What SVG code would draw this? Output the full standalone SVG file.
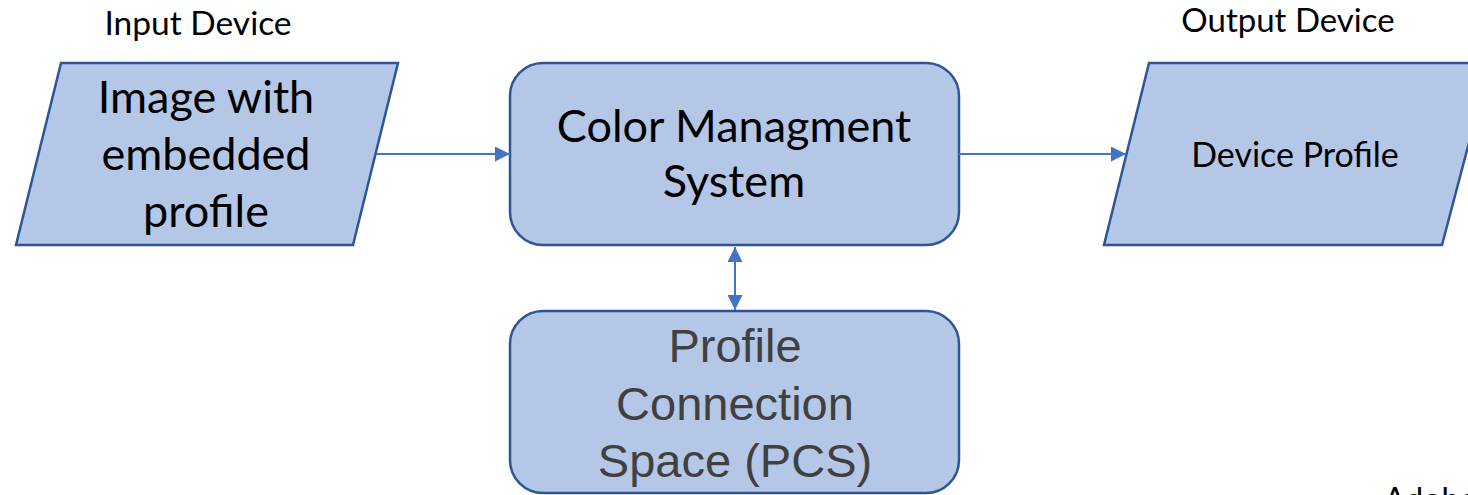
<svg xmlns="http://www.w3.org/2000/svg" width="1468" height="495" viewBox="0 0 1468 495">
<defs>
<style>
.shape{fill:#B4C7E7;stroke:#2F5597;stroke-width:2.5;}
.t{font-family:Lato,"Open Sans","Liberation Sans",sans-serif;fill:#000;text-anchor:middle;}
.pcs{font-family:"Liberation Sans",Arial,sans-serif;fill:#404040;text-anchor:middle;font-size:47px;}
.conn{stroke:#4472C4;stroke-width:2;fill:none;}
</style>
<marker id="ah" viewBox="0 0 15 15" refX="15" refY="7.5" markerWidth="15" markerHeight="15" markerUnits="userSpaceOnUse" orient="auto-start-reverse">
<path d="M0,0 L15,7.5 L0,15 Z" fill="#4472C4"/>
</marker>
</defs>
<rect width="1468" height="495" fill="#fff"/>
<text class="t" x="198" y="35" font-size="33.5">Input Device</text>
<text class="t" x="1288" y="32" font-size="33">Output Device</text>
<g id="input">
<polygon class="shape" points="61,63 398,63 353,245 16,245"/>
<text class="t" font-size="45"><tspan x="206" y="113">Image with</tspan><tspan x="206" y="170">embedded</tspan><tspan x="206" y="227">profile</tspan></text>
</g>
<g id="cms">
<rect class="shape" x="510" y="63" width="449" height="182" rx="33" ry="33"/>
<text class="t" font-size="45"><tspan x="734" y="142">Color Managment</tspan><tspan x="734" y="197">System</tspan></text>
</g>
<g id="pcs">
<rect class="shape" x="510" y="311" width="449" height="182" rx="33" ry="33"/>
<text class="pcs"><tspan x="735" y="362">Profile</tspan><tspan x="735" y="420">Connection</tspan><tspan x="735" y="477">Space (PCS)</tspan></text>
</g>
<g id="output">
<polygon class="shape" points="1149,63 1490,63 1442,245 1104,245"/>
<text class="t" x="1295" y="167" font-size="34">Device Profile</text>
</g>
<g id="connectors">
<line class="conn" x1="376" y1="154" x2="510" y2="154" marker-end="url(#ah)"/>
<line class="conn" x1="959" y1="154" x2="1126" y2="154" marker-end="url(#ah)"/>
<line class="conn" x1="735" y1="247" x2="735" y2="310" marker-start="url(#ah)" marker-end="url(#ah)"/>
</g>
<text class="t" x="1384" y="511" font-size="32" style="text-anchor:start">Adobe</text>
</svg>
